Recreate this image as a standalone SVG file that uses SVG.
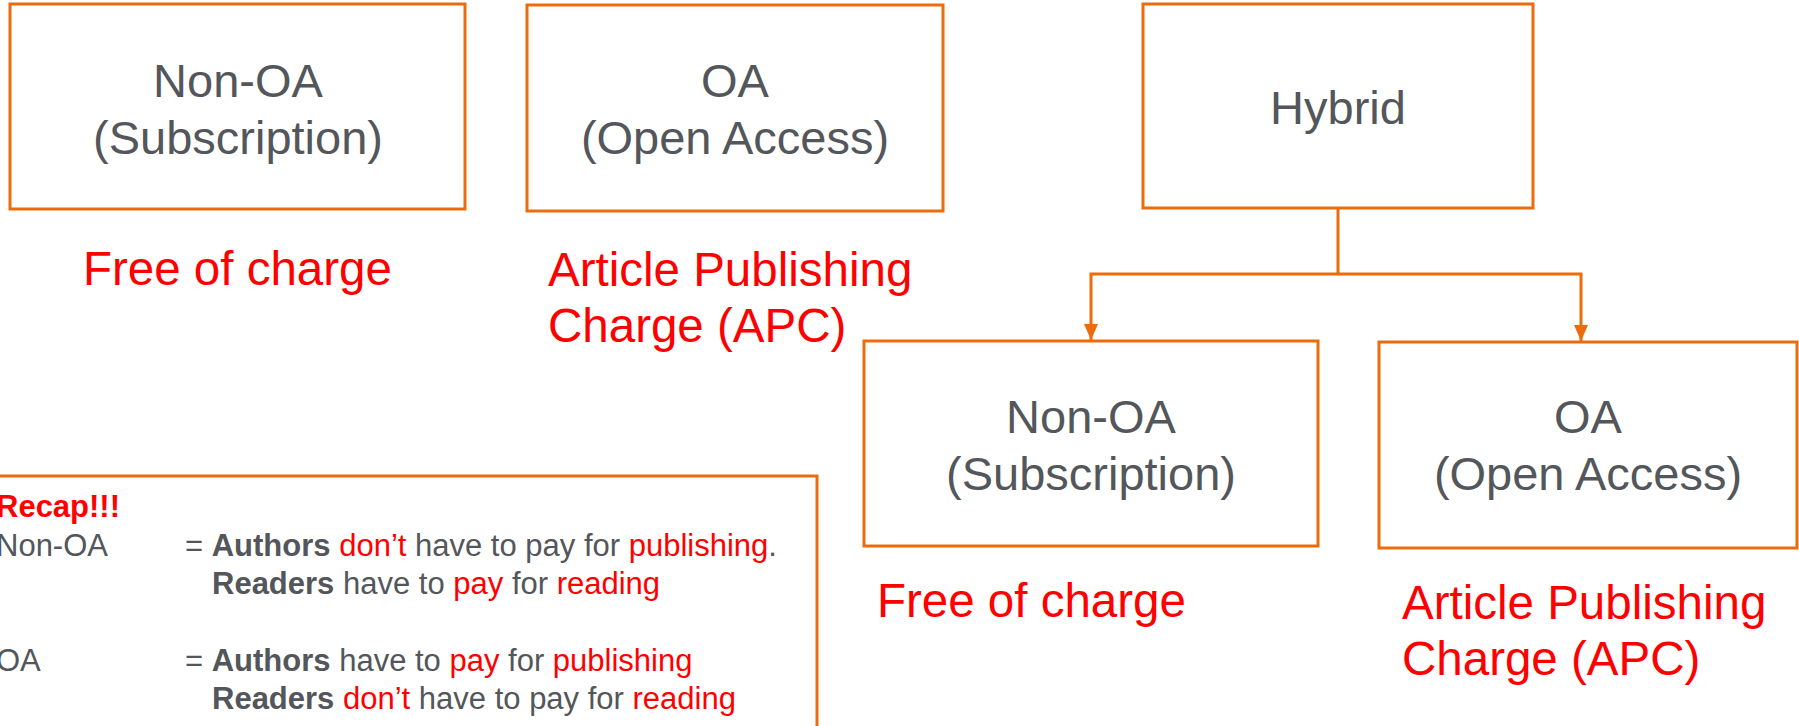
<svg xmlns="http://www.w3.org/2000/svg" width="1799" height="726" viewBox="0 0 1799 726">
<defs>
<style>
.box{fill:#fff;stroke:#EC6C0D;stroke-width:3}
.lbl{font-family:"Liberation Sans",Arial,sans-serif;font-size:47px;fill:#53565A;text-anchor:middle}
.red{font-family:"Liberation Sans",Arial,sans-serif;font-size:47.5px;fill:#FF0000}
.conn{fill:none;stroke:#EC6C0D;stroke-width:3}
.rc{font-family:"Liberation Sans",Arial,sans-serif;font-size:31px;fill:#53565A}
.r{fill:#FF0000}
.b{font-weight:bold}
</style>
<marker id="arr" viewBox="0 0 16 14" refX="16" refY="7" markerWidth="16" markerHeight="14" markerUnits="userSpaceOnUse" orient="auto">
<path d="M0,0 L16,7 L0,14 Z" fill="#EC6C0D"/>
</marker>
</defs>
<rect width="1799" height="726" fill="#fff"/>

<g id="nonoa-top">
<rect class="box" x="10" y="4" width="455" height="205"/>
<text class="lbl" x="238" y="97">Non-OA</text>
<text class="lbl" x="238" y="154">(Subscription)</text>
</g>
<g id="oa-top">
<rect class="box" x="527" y="5" width="416" height="206"/>
<text class="lbl" x="735" y="97">OA</text>
<text class="lbl" x="735" y="154">(Open Access)</text>
</g>
<g id="hybrid">
<rect class="box" x="1143" y="4" width="390" height="204"/>
<text class="lbl" x="1338" y="124">Hybrid</text>
</g>
<g id="nonoa-hybrid">
<rect class="box" x="864" y="341" width="454" height="205"/>
<text class="lbl" x="1091" y="433">Non-OA</text>
<text class="lbl" x="1091" y="490">(Subscription)</text>
</g>
<g id="oa-hybrid">
<rect class="box" x="1379" y="342" width="418" height="206"/>
<text class="lbl" x="1588" y="433">OA</text>
<text class="lbl" x="1588" y="490">(Open Access)</text>
</g>

<g id="price-labels">
<text class="red" x="83" y="285">Free of charge</text>
<text class="red" x="548" y="286">Article Publishing</text>
<text class="red" x="548" y="342">Charge (APC)</text>
<text class="red" x="877" y="617">Free of charge</text>
<text class="red" x="1402" y="619">Article Publishing</text>
<text class="red" x="1402" y="675">Charge (APC)</text>
</g>

<g id="connectors">
<path class="conn" d="M1338,208 V274 H1091 V340" marker-end="url(#arr)"/>
<path class="conn" d="M1338,274 H1581 V341" marker-end="url(#arr)"/>
</g>

<g id="recap">
<rect class="box" x="-10" y="476" width="827" height="300"/>
<text class="rc b r" x="-4" y="517">Recap!!!</text>
<text class="rc" x="-4" y="556">Non-OA</text>
<text class="rc" x="185" y="556">= <tspan class="b">Authors</tspan> <tspan class="r">don’t</tspan> have to pay for <tspan class="r">publishing</tspan>.</text>
<text class="rc" x="212" y="594"><tspan class="b">Readers</tspan> have to <tspan class="r">pay</tspan> for <tspan class="r">reading</tspan></text>
<text class="rc" x="-4" y="671">OA</text>
<text class="rc" x="185" y="671">= <tspan class="b">Authors</tspan> have to <tspan class="r">pay</tspan> for <tspan class="r">publishing</tspan></text>
<text class="rc" x="212" y="709"><tspan class="b">Readers</tspan> <tspan class="r">don’t</tspan> have to pay for <tspan class="r">reading</tspan></text>
</g>
</svg>
